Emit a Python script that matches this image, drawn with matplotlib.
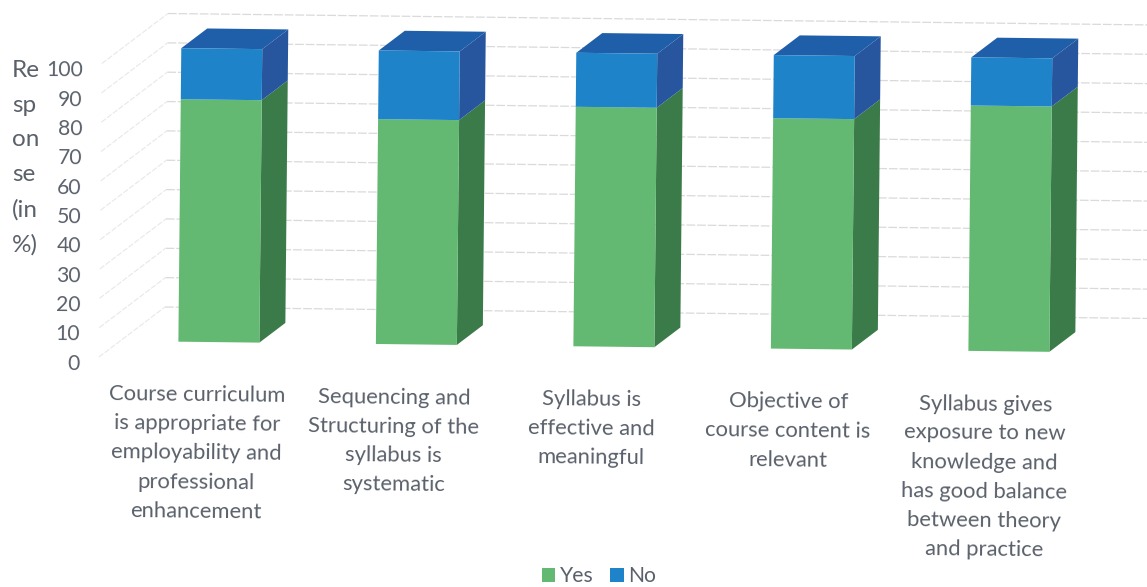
import matplotlib
matplotlib.use("Agg")
import matplotlib.pyplot as plt
from matplotlib.transforms import Affine2D

categories = [
    "Course curriculum\nis appropriate for\nemployability and\nprofessional\nenhancement",
    "Sequencing and\nStructuring of the\nsyllabus is\nsystematic",
    "Syllabus is\neffective and\nmeaningful",
    "Objective of\ncourse content is\nrelevant",
    "Syllabus gives\nexposure to new\nknowledge and\nhas good balance\nbetween theory\nand practice",
]
yes_values = [82.6, 76.6, 81.6, 78.5, 83.6]
no_values = [17.4, 23.4, 18.4, 21.5, 16.4]
y_ticks = [0, 10, 20, 30, 40, 50, 60, 70, 80, 90, 100]
y_title = "Re\nsp\non\nse\n(in\n%)"

plt.rcParams["font.family"] = ["Lato", "DejaVu Sans"]
TEXT = "#5b616b"
GREEN, GREEN_SIDE = "#63b971", "#3b7b49"
BLUE, BLUE_SIDE, BLUE_TOP = "#1f83c9", "#27569f", "#1f5ea9"

fig = plt.figure(figsize=(11.47, 5.87), dpi=100)
ax = fig.add_axes([0, 0, 1, 1])
ax.set_xlim(0, 1147)
ax.set_ylim(587, 0)
ax.axis("off")

# oblique projection of (category, value, depth) onto the page, slightly rotated as in the scan
O = (99.0, 357.0)
U = (197.5, 2.3)
V = (0.029, -2.935)
D = (66.0, -50.0)
BAR_W = 0.41
D0, D1 = 0.32, 0.714


def chart(depth):
    return (Affine2D.from_values(U[0], U[1], V[0], V[1], O[0], O[1])
            .translate(depth * D[0], depth * D[1]) + ax.transData)


def pt(u, v, d):
    return (O[0] + u * U[0] + v * V[0] + d * D[0],
            O[1] + u * U[1] + v * V[1] + d * D[1])


def face(points, color):
    ax.fill([p[0] for p in points], [p[1] for p in points], color=color, lw=0, zorder=3)


# walls
back = chart(1.0)
for t in y_ticks:
    ax.plot([0, 5], [t, t], transform=back, color="#dadada", lw=0.9,
            ls=(0, (7, 1.5)), zorder=1)
    a, b = pt(0, t, 0), pt(0, t, 1)
    ax.plot([a[0], b[0]], [a[1], b[1]], color="#e8e8e8", lw=0.8,
            ls=(0, (5, 1.5)), zorder=1)

# bars
front = chart(D0)
xs = [i + 0.5 for i in range(len(categories))]
ax.bar(xs, yes_values, BAR_W, color=GREEN, transform=front, label="Yes", zorder=4, lw=0)
ax.bar(xs, no_values, BAR_W, bottom=yes_values, color=BLUE, transform=front, label="No",
       zorder=4, lw=0)
for x, y, n in zip(xs, yes_values, no_values):
    r = x + BAR_W / 2
    l = x - BAR_W / 2
    top = y + n
    face([pt(r, 0, D0), pt(r, y, D0), pt(r, y, D1), pt(r, 0, D1)], GREEN_SIDE)
    face([pt(r, y, D0), pt(r, top, D0), pt(r, top, D1), pt(r, y, D1)], BLUE_SIDE)
    face([pt(l, top, D0), pt(r, top, D0), pt(r, top, D1), pt(l, top, D1)], BLUE_TOP)

ax.set_xlim(0, 1147)
ax.set_ylim(587, 0)

# value labels
for t in y_ticks:
    x, y = pt(0, t, 0)
    ax.text(x - 19, y + 7, str(t), ha="right", va="center", fontsize=15.2, color=TEXT,
            rotation=-0.6, rotation_mode="anchor")

ax.text(12, 60, y_title, ha="left", va="top", fontsize=17.5, color=TEXT, linespacing=1.8)

# category labels
for i, label in enumerate(categories):
    ax.text(197.5 + i * 197.0, 385 + i * 2.3, label, ha="center", va="top", fontsize=15.8,
            color=TEXT, linespacing=1.57, rotation=-0.6, rotation_mode="anchor")

ax.legend(loc="center", bbox_to_anchor=(599 / 1147, 1 - 576.5 / 587), ncol=2, frameon=False,
          fontsize=15.2, labelcolor=TEXT, handlelength=0.65, handleheight=0.65,
          handletextpad=0.2, columnspacing=0.8, borderpad=0, borderaxespad=0)

fig.savefig("out.png", dpi=100)
